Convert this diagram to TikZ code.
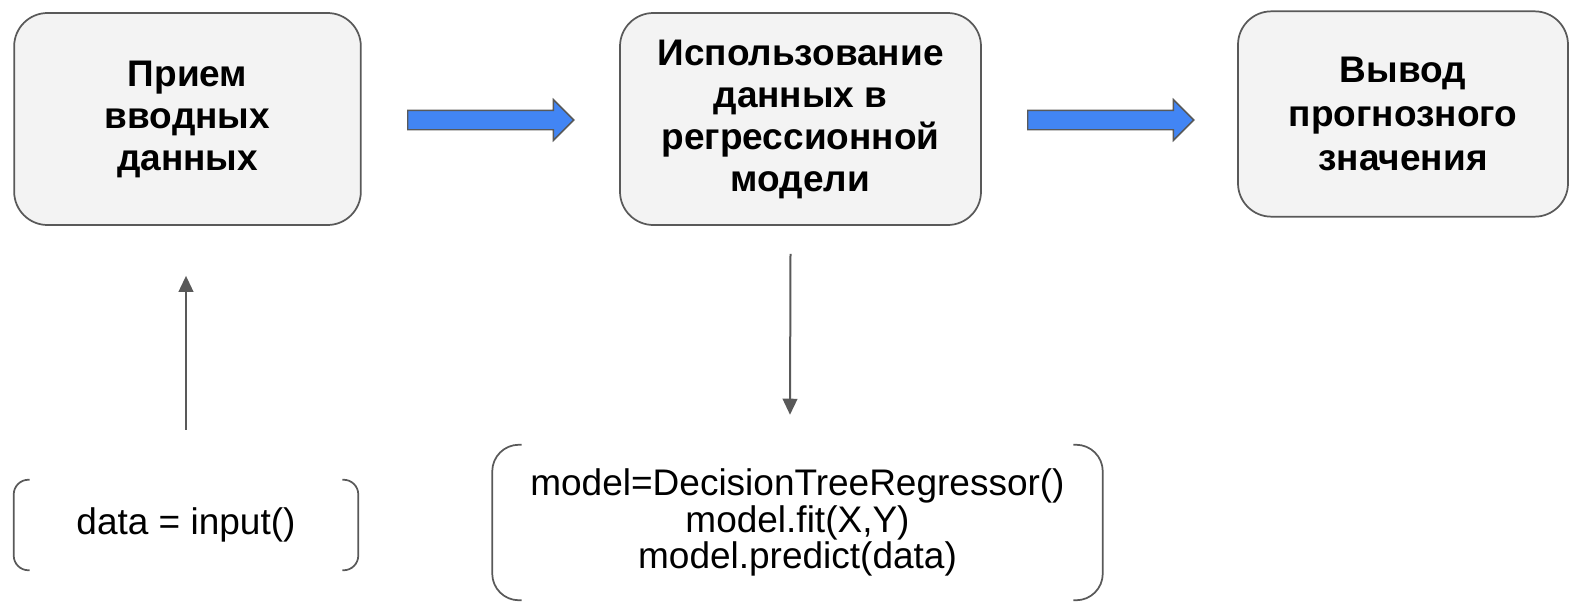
\documentclass[tikz,border=0pt]{standalone}
\usepackage{fontspec}
\setmainfont{Liberation Sans}
\usetikzlibrary{shapes.arrows, arrows.meta}

\definecolor{boxgray}{HTML}{F3F3F3}
\definecolor{linegray}{HTML}{595959}
\definecolor{arrowblue}{HTML}{4285F4}

\begin{document}
\begin{tikzpicture}[
    x=0.75pt, y=-0.75pt,
    stage/.style={draw=linegray, line width=1.3pt, fill=boxgray, rounded corners=25pt, align=center, font=\fontsize{27.75}{31.5}\selectfont\bfseries},
    code/.style={align=center, font=\fontsize{27.75}{27.4}\selectfont},
    blockarrow/.style={single arrow, draw=linegray, line width=1.1pt, fill=arrowblue, inner xsep=0pt, inner ysep=6.75pt, single arrow head extend=7.9pt, single arrow tip angle=90, minimum height=124.5pt, minimum width=29.25pt, anchor=tail},
    bracket/.style={draw=linegray, line width=1.3pt},
    flow/.style={draw=linegray, line width=1.5pt, -{Triangle[length=12pt, width=11pt]}}
]
\useasboundingbox (0,0) rectangle (1572,604);

% Top row
\node[stage, minimum width=260pt, minimum height=159pt] (recv) at (187.5,119) {Прием\\вводных\\данных};
\node[stage, minimum width=270.75pt, minimum height=159pt] (use) at (800.5,119) {Использование\\данных в\\регрессионной\\модели};
\node[stage, minimum width=247.5pt, minimum height=154pt, font=\fontsize{27.75}{33}\selectfont\bfseries] (out) at (1403,114) {Вывод\\прогнозного\\значения};

\node[blockarrow] (go1) at (407,120) {};
\node[blockarrow] (go2) at (1027,120) {};

% Bottom row
\node[code, minimum width=258pt, minimum height=67.5pt] (inp) at (186,525) {data = input()};
\node[code, minimum width=457.5pt, minimum height=116.25pt] (model) at (797.5,522.5) {model=DecisionTreeRegressor()\\model.fit(X,Y)\\model.predict(data)};

\draw[bracket, rounded corners=11pt] ([xshift=12pt]inp.north west) -- (inp.north west) -- (inp.south west) -- ([xshift=12pt]inp.south west);
\draw[bracket, rounded corners=11pt] ([xshift=-12pt]inp.north east) -- (inp.north east) -- (inp.south east) -- ([xshift=-12pt]inp.south east);
\draw[bracket, rounded corners=20pt] ([xshift=22pt]model.north west) -- (model.north west) -- (model.south west) -- ([xshift=22pt]model.south west);
\draw[bracket, rounded corners=20pt] ([xshift=-22pt]model.north east) -- (model.north east) -- (model.south east) -- ([xshift=-22pt]model.south east);

\draw[flow] ([shift={(0,-50)}]inp.north) -- ([shift={(-1.5,50)}]recv.south);
\draw[flow] ([shift={(-10,28)}]use.south) -- ([shift={(-7.5,-30)}]model.north);

\end{tikzpicture}
\end{document}
